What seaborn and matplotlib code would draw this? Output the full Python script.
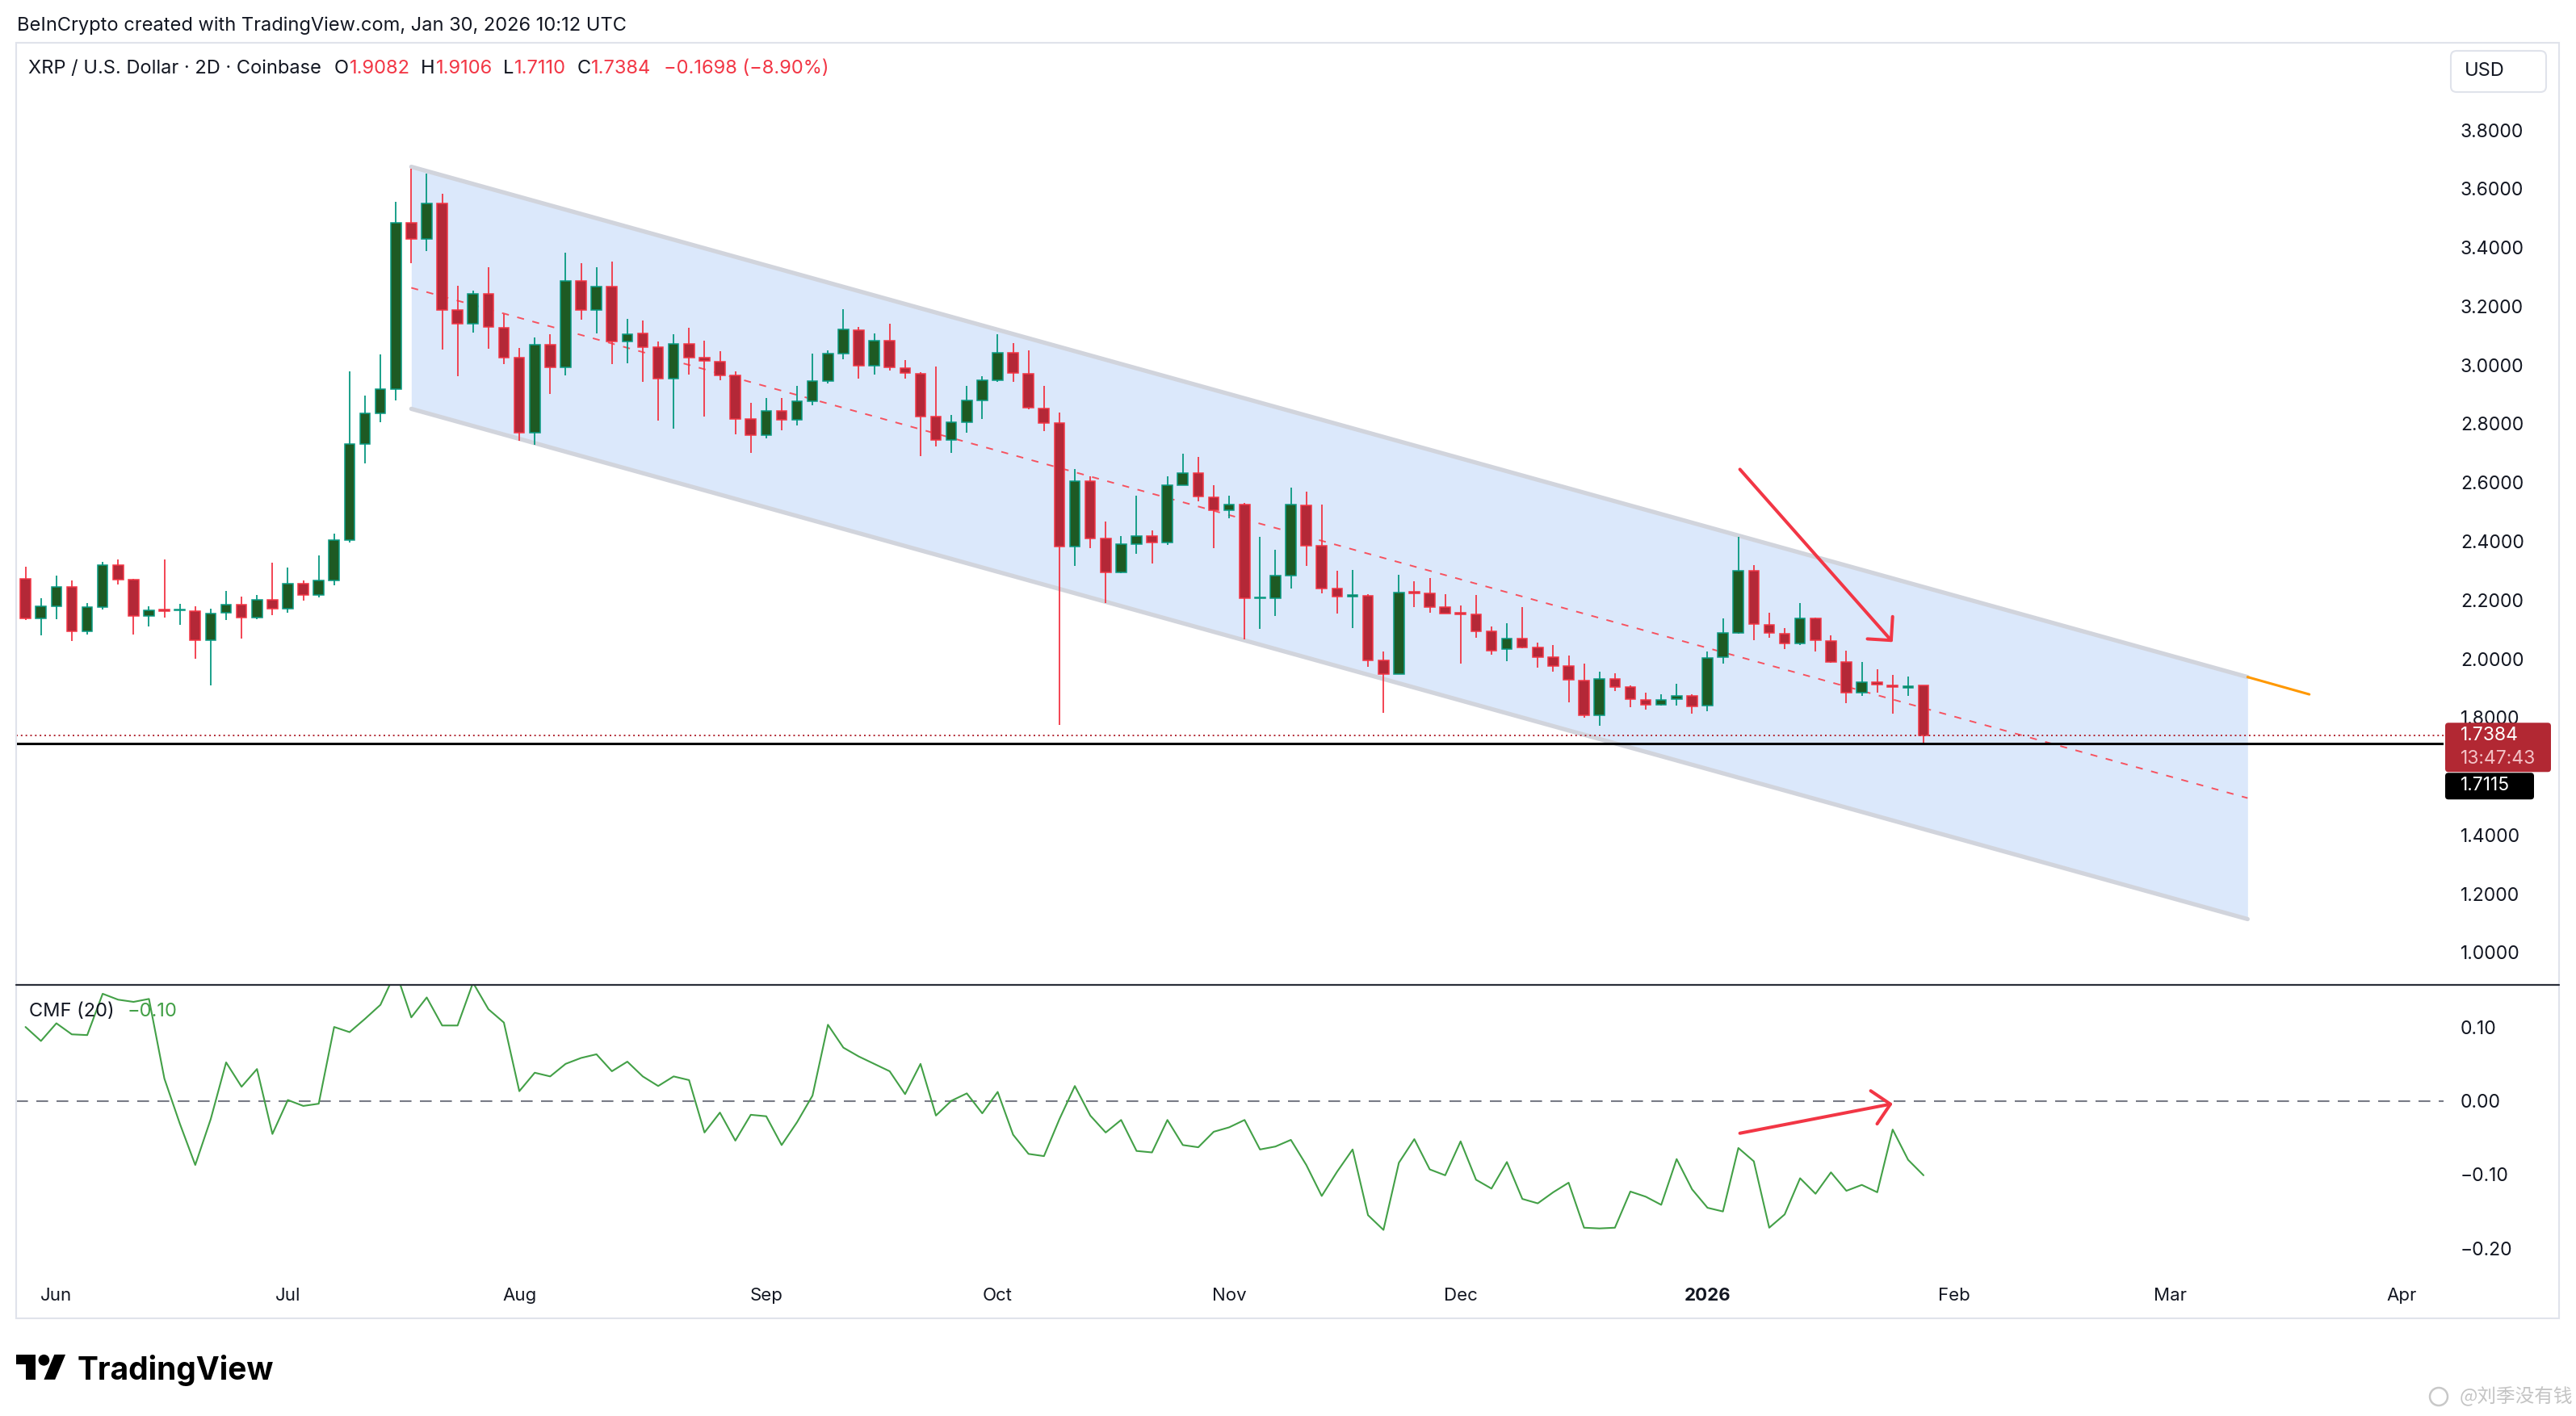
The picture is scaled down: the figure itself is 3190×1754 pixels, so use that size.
import numpy as np
import pandas as pd
import seaborn as sns
import matplotlib.pyplot as plt
from matplotlib.patches import FancyBboxPatch, Polygon, Circle, Rectangle
from matplotlib.lines import Line2D
from matplotlib.transforms import IdentityTransform

W, H = 3190, 1754

# XRP / USD, 2D candles, Coinbase (first bar = May 28 2025)
opens = [2.271, 2.138, 2.179, 2.245, 2.094, 2.175, 2.319, 2.270, 2.146, 2.167,
         2.164, 2.162, 2.063, 2.158, 2.184, 2.141, 2.201, 2.171, 2.255, 2.218,
         2.268, 2.404, 2.732, 2.836, 2.919, 3.484, 3.429, 3.551, 3.187, 3.142,
         3.241, 3.128, 3.024, 2.770, 3.069, 2.991, 3.287, 3.188, 3.267, 3.080,
         3.108, 3.061, 2.954, 3.071, 3.025, 3.012, 2.965, 2.817, 2.761, 2.844,
         2.815, 2.878, 2.945, 3.038, 3.120, 2.999, 3.084, 2.990, 2.971, 2.824,
         2.744, 2.805, 2.880, 2.949, 3.042, 2.971, 2.853, 2.802, 2.383, 2.604,
         2.409, 2.294, 2.390, 2.419, 2.395, 2.592, 2.632, 2.550, 2.507, 2.524,
         2.205, 2.207, 2.283, 2.521, 2.384, 2.238, 2.213, 2.215, 1.994, 1.949,
         2.227, 2.222, 2.176, 2.155, 2.152, 2.093, 2.032, 2.069, 2.038, 2.006,
         1.975, 1.927, 1.807, 1.932, 1.903, 1.859, 1.843, 1.862, 1.874, 1.841,
         2.005, 2.088, 2.301, 2.117, 2.085, 2.052, 2.137, 2.062, 1.989, 1.886,
         1.921, 1.910, 1.900, 1.9082]
highs = [2.313, 2.205, 2.284, 2.267, 2.191, 2.329, 2.337, 2.272, 2.180, 2.337,
         2.186, 2.179, 2.170, 2.230, 2.212, 2.217, 2.328, 2.311, 2.266, 2.351,
         2.426, 2.978, 2.897, 3.036, 3.555, 3.669, 3.653, 3.583, 3.269, 3.254,
         3.332, 3.175, 3.059, 3.093, 3.105, 3.383, 3.347, 3.334, 3.353, 3.158,
         3.153, 3.080, 3.105, 3.128, 3.083, 3.046, 2.978, 2.870, 2.887, 2.887,
         2.928, 3.038, 3.051, 3.190, 3.129, 3.109, 3.142, 3.016, 2.977, 2.996,
         2.830, 2.930, 2.963, 3.105, 3.074, 3.050, 2.928, 2.838, 2.647, 2.621,
         2.467, 2.417, 2.554, 2.437, 2.620, 2.697, 2.687, 2.592, 2.554, 2.530,
         2.416, 2.370, 2.582, 2.569, 2.525, 2.299, 2.303, 2.219, 2.024, 2.286,
         2.263, 2.275, 2.221, 2.182, 2.217, 2.109, 2.121, 2.176, 2.054, 2.047,
         2.011, 1.984, 1.957, 1.950, 1.909, 1.886, 1.879, 1.914, 1.880, 2.025,
         2.138, 2.414, 2.318, 2.157, 2.105, 2.189, 2.139, 2.081, 2.029, 1.988,
         1.964, 1.944, 1.940, 1.9106]
lows = [2.133, 2.079, 2.136, 2.061, 2.082, 2.169, 2.254, 2.083, 2.109, 2.140,
        2.116, 2.000, 1.909, 2.132, 2.069, 2.134, 2.149, 2.158, 2.197, 2.208,
        2.250, 2.396, 2.665, 2.805, 2.879, 3.346, 3.388, 3.053, 2.962, 3.111,
        3.055, 3.002, 2.741, 2.728, 2.901, 2.965, 3.155, 3.108, 3.002, 3.007,
        2.944, 2.811, 2.784, 2.967, 2.825, 2.948, 2.763, 2.701, 2.750, 2.778,
        2.795, 2.863, 2.937, 3.021, 2.954, 2.967, 2.982, 2.955, 2.690, 2.724,
        2.701, 2.770, 2.816, 2.942, 2.942, 2.850, 2.775, 1.776, 2.317, 2.377,
        2.190, 2.291, 2.357, 2.324, 2.388, 2.590, 2.537, 2.376, 2.478, 2.067,
        2.101, 2.145, 2.238, 2.316, 2.223, 2.154, 2.105, 1.974, 1.816, 1.948,
        2.177, 2.157, 2.153, 1.983, 2.073, 2.013, 1.992, 2.037, 1.971, 1.957,
        1.853, 1.800, 1.771, 1.891, 1.836, 1.827, 1.840, 1.842, 1.813, 1.822,
        1.985, 2.085, 2.064, 2.071, 2.034, 2.046, 2.026, 1.986, 1.850, 1.873,
        1.886, 1.812, 1.873, 1.7110]
closes = [2.138, 2.178, 2.245, 2.094, 2.175, 2.319, 2.270, 2.146, 2.165, 2.162,
          2.168, 2.063, 2.155, 2.184, 2.141, 2.201, 2.171, 2.255, 2.218, 2.268,
          2.404, 2.732, 2.836, 2.919, 3.484, 3.429, 3.551, 3.187, 3.142, 3.241,
          3.129, 3.024, 2.770, 3.069, 2.991, 3.287, 3.188, 3.267, 3.080, 3.105,
          3.062, 2.954, 3.071, 3.026, 3.013, 2.965, 2.817, 2.761, 2.844, 2.815,
          2.878, 2.945, 3.038, 3.121, 2.999, 3.084, 2.991, 2.972, 2.826, 2.744,
          2.805, 2.880, 2.949, 3.042, 2.972, 2.854, 2.803, 2.383, 2.604, 2.411,
          2.294, 2.390, 2.419, 2.395, 2.592, 2.632, 2.553, 2.507, 2.524, 2.205,
          2.207, 2.283, 2.524, 2.386, 2.240, 2.213, 2.218, 1.995, 1.949, 2.225,
          2.222, 2.176, 2.155, 2.152, 2.095, 2.028, 2.069, 2.040, 2.007, 1.976,
          1.928, 1.807, 1.932, 1.903, 1.862, 1.843, 1.861, 1.874, 1.838, 2.003,
          2.087, 2.301, 2.118, 2.087, 2.052, 2.137, 2.064, 1.990, 1.886, 1.921,
          1.912, 1.903, 1.908, 1.7384]
cmf = [0.100, 0.081, 0.105, 0.090, 0.089, 0.145, 0.137, 0.134, 0.138, 0.030,
       -0.031, -0.087, -0.025, 0.052, 0.019, 0.043, -0.045, 0.001, -0.007, -0.004,
       0.100, 0.093, 0.111, 0.130, 0.175, 0.113, 0.140, 0.102, 0.102, 0.160,
       0.124, 0.106, 0.013, 0.038, 0.033, 0.050, 0.058, 0.063, 0.040, 0.053,
       0.033, 0.020, 0.033, 0.028, -0.043, -0.016, -0.054, -0.019, -0.021, -0.060,
       -0.029, 0.007, 0.103, 0.072, 0.060, 0.050, 0.040, 0.009, 0.050, -0.020,
       0.000, 0.010, -0.017, 0.012, -0.046, -0.072, -0.075, -0.025, 0.020, -0.020,
       -0.043, -0.026, -0.068, -0.070, -0.026, -0.060, -0.063, -0.042, -0.036, -0.026,
       -0.066, -0.062, -0.053, -0.087, -0.129, -0.096, -0.066, -0.155, -0.175, -0.084,
       -0.052, -0.093, -0.101, -0.055, -0.107, -0.119, -0.083, -0.133, -0.139, -0.124,
       -0.111, -0.172, -0.173, -0.172, -0.123, -0.130, -0.141, -0.079, -0.120, -0.145,
       -0.150, -0.064, -0.082, -0.172, -0.154, -0.105, -0.126, -0.097, -0.122, -0.114,
       -0.124, -0.039, -0.080, -0.101]

month_labels = ["Jun", "Jul", "Aug", "Sep", "Oct", "Nov", "Dec", "2026", "Feb", "Mar", "Apr"]
month_bars = [2, 17, 32, 48, 63, 78, 93, 109, 125, 139, 154]
price_ticks = [3.8, 3.6, 3.4, 3.2, 3.0, 2.8, 2.6, 2.4, 2.2, 2.0, 1.8, 1.4, 1.2, 1.0]
cmf_ticks = [0.10, 0.00, -0.10, -0.20]

# drawings on the chart
channel_bars = [25, 144]
channel_upper = [3.675, 1.938]
channel_lower = [2.851, 1.114]
extension_bars = [144, 148]
extension_prices = [1.938, 1.879]
price_arrow = [(111.1, 2.645), (121.0, 2.057)]
cmf_arrow = [(111.1, -0.044), (121.0, -0.004)]
last_price = 1.7384
support_price = 1.7115

UP_WICK, DN_WICK = "#089981", "#f23645"
UP_BODY, DN_BODY = "#1e5a23", "#b42837"
TXT = "#131722"
RED = "#f23645"

sns.set_theme(style="white")
plt.rcParams["font.family"] = ["Inter", "DejaVu Sans"]

fig = plt.figure(figsize=(W / 100, H / 100), dpi=100, facecolor="white")


def add_pane(left, top, right, bottom):
    return fig.add_axes([left / W, 1 - bottom / H, (right - left) / W, (bottom - top) / H])


def px(x, y_top):
    # pixel position measured from the top-left corner -> display coords
    return x, H - y_top


ax = add_pane(20, 53, 3026, 1220)
ax2 = add_pane(20, 1220, 3026, 1582)

df = pd.DataFrame({"open": opens, "high": highs, "low": lows, "close": closes, "cmf": cmf})
df["bar"] = np.arange(len(df))
up = df["close"] >= df["open"]
wick_col = np.where(up, UP_WICK, DN_WICK)
body_col = np.where(up, UP_BODY, DN_BODY)

# channel
ax.fill_between(channel_bars, channel_lower, channel_upper, color="#dbe8fb", linewidth=0, zorder=1)
ax.plot(channel_bars, channel_upper, color="#d1d4dc", lw=3.8, solid_capstyle="round", zorder=2)
ax.plot(channel_bars, channel_lower, color="#d1d4dc", lw=3.8, solid_capstyle="round", zorder=2)
mid = [(u + l) / 2 for u, l in zip(channel_upper, channel_lower)]
ax.plot(channel_bars, mid, color="#f7525f", lw=1.4, dashes=(4.5, 5.5), zorder=2)
ax.plot(extension_bars, extension_prices, color="#ff9800", lw=2.2, zorder=2)

# candles
ax.vlines(df["bar"], df["low"], df["high"], colors=wick_col, linewidth=1.3, zorder=3)
body_lo = df[["open", "close"]].min(axis=1)
body_h = (df["close"] - df["open"]).abs().clip(lower=0.004)
ax.bar(df["bar"], body_h, bottom=body_lo, width=0.66, color=body_col,
       edgecolor=wick_col, linewidth=1.1, zorder=4)

ax.axhline(last_price, color="#b22833", lw=1.4, ls=(0, (1, 2)), zorder=5)
ax.axhline(support_price, color="black", lw=2.2, zorder=5)

arrow_style = dict(arrowstyle="->,head_length=0.75,head_width=0.75", color=RED, lw=2.9,
                   mutation_scale=20, shrinkA=0, shrinkB=0)
ax.annotate("", xy=price_arrow[1], xytext=price_arrow[0], arrowprops=arrow_style, zorder=6)

# CMF pane
sns.lineplot(data=df, x="bar", y="cmf", ax=ax2, color="#43a047", linewidth=1.5, zorder=3)
ax2.axhline(0, color="#787b86", lw=1.5, dashes=(7, 5), zorder=2)
ax2.annotate("", xy=cmf_arrow[1], xytext=cmf_arrow[0], arrowprops=arrow_style, zorder=6)

for a in (ax, ax2):
    a.set_xlim(-0.607, 156.7)
    a.set_xlabel("")
    a.set_ylabel("")
    for s in a.spines.values():
        s.set_visible(False)
    a.yaxis.tick_right()
    a.set_facecolor("white")

ax.set_ylim(0.890, 4.097)
ax.set_yticks(price_ticks)
ax.set_yticklabels([f"{v:.4f}" for v in price_ticks])
ax.set_xticks([])
ax.tick_params(axis="y", length=0, pad=15, labelsize=16.5, labelcolor=TXT)

ax2.set_ylim(-0.239, 0.157)
ax2.set_yticks(cmf_ticks)
ax2.set_yticklabels([f"{v:.2f}".replace("-", "\u2212") for v in cmf_ticks])
ax2.set_xticks(month_bars)
ax2.set_xticklabels(month_labels)
ax2.tick_params(axis="y", length=0, pad=15, labelsize=16.5, labelcolor=TXT)
ax2.tick_params(axis="x", length=0, pad=9.5, labelsize=16, labelcolor=TXT)
for lbl in ax2.get_xticklabels():
    if lbl.get_text() == "2026":
        lbl.set_fontweight("bold")

# frame and pane separator
fig.add_artist(Rectangle((20 / W, 1 - 1633 / H), (3169 - 20) / W, (1633 - 53) / H,
                         transform=fig.transFigure, fill=False, edgecolor="#e0e3eb", lw=1.5))
fig.add_artist(Line2D([20 / W, 3169 / W], [1 - 1220 / H] * 2, transform=fig.transFigure,
                      color="#2a2e39", lw=1.6))

renderer = fig.canvas.get_renderer()


def text_run(x, y_top, pieces, size):
    for s, color, gap in pieces:
        t = fig.text((x + gap) / W, 1 - y_top / H, s, color=color, fontsize=size,
                     va="center", ha="left")
        x = t.get_window_extent(renderer=renderer).x1


fig.text(21 / W, 1 - 32 / H, "BeInCrypto created with TradingView.com, Jan 30, 2026 10:12 UTC",
         fontsize=17, color=TXT, va="center", ha="left")
text_run(35, 85, [("XRP / U.S. Dollar \u00b7 2D \u00b7 Coinbase", TXT, 0),
                  ("O", TXT, 16), ("1.9082", RED, 1),
                  ("H", TXT, 13), ("1.9106", RED, 1),
                  ("L", TXT, 13), ("1.7110", RED, 1),
                  ("C", TXT, 13), ("1.7384", RED, 1),
                  ("\u22120.1698 (\u22128.90%)", RED, 16)], 17)
text_run(36, 1253, [("CMF (20)", TXT, 0), ("\u22120.10", "#43a047", 16)], 17)

# USD box
ux, uy = px(3035, 114)
fig.add_artist(FancyBboxPatch((ux, uy), 118, 51, boxstyle="round,pad=0,rounding_size=7",
                              transform=IdentityTransform(), facecolor="white",
                              edgecolor="#e0e3eb", lw=1.5))
fig.text(3052 / W, 1 - 88 / H, "USD", fontsize=17, color=TXT, va="center", ha="left")

# price labels on the axis
y_last = ax.transData.transform((0, last_price))[1]
red_top = y_last + 16
fig.add_artist(FancyBboxPatch((3028, red_top - 61), 131, 61, boxstyle="round,pad=0,rounding_size=4",
                              transform=IdentityTransform(), facecolor="#b22833", edgecolor="none"))
fig.add_artist(FancyBboxPatch((3028, red_top - 95), 110, 33, boxstyle="round,pad=0,rounding_size=4",
                              transform=IdentityTransform(), facecolor="black", edgecolor="none"))
fig.text(3047 / W, y_last / H, "1.7384", fontsize=16.5, color="white", va="center", ha="left")
fig.text(3047 / W, (y_last - 29) / H, "13:47:43", fontsize=16.5, color="#f3c2c6", va="center", ha="left")
fig.text(3047 / W, (red_top - 78) / H, "1.7115", fontsize=16.5, color="white", va="center", ha="left")

# TradingView logo
s, ox, oy = 1.72, 20, 1671


def logo_pt(u, v):
    return ((ox + u * s) / W, 1 - (oy + v * s) / H)


fig.add_artist(Polygon([logo_pt(*p) for p in [(14, 22), (7, 22), (7, 11), (0, 11), (0, 4), (14, 4)]],
                       closed=True, transform=fig.transFigure, facecolor="black", edgecolor="none"))
fig.add_artist(Polygon([logo_pt(*p) for p in [(28, 22), (20, 22), (27.5, 4), (35.5, 4)]],
                       closed=True, transform=fig.transFigure, facecolor="black", edgecolor="none"))
cx, cy = px(ox + 20 * s, oy + 8 * s)
fig.add_artist(Circle((cx, cy), 4 * s, transform=IdentityTransform(), facecolor="black", edgecolor="none"))
fig.text(96 / W, 1 - 1709 / H, "TradingView", fontsize=28, fontweight="bold", color="black",
         va="baseline", ha="left")

# watermark
wx, wy = px(3020, 1730)
fig.add_artist(Circle((wx, wy), 11, transform=IdentityTransform(), facecolor="none",
                      edgecolor="#c8c8c8", lw=1.8))
fig.text(3186 / W, 1 - 1730 / H, "@\u5218\u5b63\u6ca1\u6709\u94b1", fontsize=17, color="#c4c4c4",
         va="center", ha="right", family=["Noto Sans CJK SC", "DejaVu Sans"])

fig.savefig("out.png", dpi=100, facecolor="white")
print("[INFO] out.png saved")
